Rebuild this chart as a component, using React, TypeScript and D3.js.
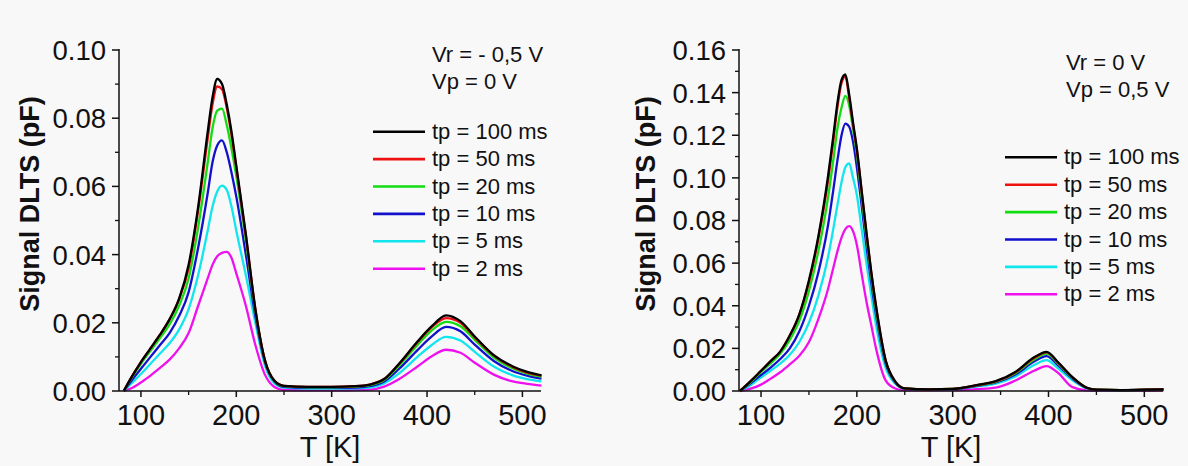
import React from "react";
import * as d3 from "d3";

// ---------- DATA ----------
const SERIES_LABELS = ["tp = 100 ms", "tp = 50 ms", "tp = 20 ms", "tp = 10 ms", "tp = 5 ms", "tp = 2 ms"];
const SERIES_COLORS = ["#000000", "#ee1111", "#11dd11", "#1111cc", "#11e6ee", "#ee11ee"];

const X_TICKS = [100, 200, 300, 400, 500];
const X_MINOR = [150, 250, 350, 450];

// Left panel (Vr = -0,5 V, Vp = 0 V)
const LEFT_Y_TICKS = [0, 0.02, 0.04, 0.06, 0.08, 0.1];
const LEFT_Y_MINOR = [0.01, 0.03, 0.05, 0.07, 0.09];
const LEFT_T = [82, 90, 100, 110, 120, 130, 140, 150, 160, 170, 175, 180, 185, 190, 195, 200, 210, 220, 230, 240, 250, 275, 300, 325, 340, 355, 370, 390, 405, 420, 435, 450, 470, 490, 505, 520];
const LEFT_100 = [0, 0.004, 0.0085, 0.0125, 0.0165, 0.021, 0.027, 0.037, 0.054, 0.076, 0.086, 0.0915, 0.090, 0.084, 0.076, 0.066, 0.046, 0.024, 0.009, 0.003, 0.0015, 0.0012, 0.0012, 0.0014, 0.0019, 0.0035, 0.0078, 0.0145, 0.019, 0.0222, 0.0205, 0.016, 0.0105, 0.0072, 0.0056, 0.0046];
const LEFT_50 = [0, 0.004, 0.0085, 0.0125, 0.0165, 0.021, 0.027, 0.036, 0.053, 0.074, 0.084, 0.0893, 0.0885, 0.083, 0.075, 0.0655, 0.0455, 0.024, 0.009, 0.003, 0.0015, 0.0012, 0.0012, 0.0014, 0.0019, 0.0035, 0.0077, 0.0143, 0.0187, 0.0214, 0.020, 0.0157, 0.0104, 0.007, 0.0054, 0.0045];
const LEFT_20 = [0, 0.0038, 0.008, 0.0118, 0.0155, 0.0195, 0.025, 0.033, 0.048, 0.067, 0.077, 0.0822, 0.0828, 0.078, 0.071, 0.063, 0.044, 0.0235, 0.009, 0.003, 0.0014, 0.0011, 0.0011, 0.0013, 0.0017, 0.0032, 0.0072, 0.0135, 0.0178, 0.0203, 0.019, 0.015, 0.0098, 0.0066, 0.0051, 0.0042];
const LEFT_10 = [0, 0.003, 0.0065, 0.010, 0.0135, 0.017, 0.022, 0.029, 0.042, 0.058, 0.067, 0.072, 0.0735, 0.070, 0.064, 0.057, 0.040, 0.022, 0.0085, 0.0028, 0.0012, 0.0009, 0.0009, 0.001, 0.0014, 0.0028, 0.0063, 0.012, 0.016, 0.0188, 0.0175, 0.0136, 0.0088, 0.0058, 0.0045, 0.0036];
const LEFT_5 = [0, 0.0022, 0.005, 0.008, 0.011, 0.014, 0.018, 0.024, 0.034, 0.047, 0.054, 0.0585, 0.0602, 0.059, 0.054, 0.047, 0.034, 0.020, 0.0075, 0.0022, 0.001, 0.0007, 0.0007, 0.0008, 0.001, 0.0022, 0.005, 0.010, 0.0135, 0.0159, 0.0148, 0.0115, 0.0072, 0.0046, 0.0035, 0.0028];
const LEFT_2 = [0, 0.0008, 0.0025, 0.0045, 0.0068, 0.0092, 0.0125, 0.017, 0.025, 0.033, 0.037, 0.0395, 0.0405, 0.0408, 0.039, 0.0345, 0.025, 0.0135, 0.0048, 0.0012, 0.0003, 0.0002, 0.0002, 0.0003, 0.0004, 0.0013, 0.0034, 0.0072, 0.0102, 0.0121, 0.0112, 0.0083, 0.0048, 0.0028, 0.0021, 0.0016];

// Right panel (Vr = 0 V, Vp = 0,5 V)
const RIGHT_Y_TICKS = [0, 0.02, 0.04, 0.06, 0.08, 0.1, 0.12, 0.14, 0.16];
const RIGHT_Y_MINOR = [0.01, 0.03, 0.05, 0.07, 0.09, 0.11, 0.13, 0.15];
const RIGHT_T = [78, 90, 100, 110, 120, 130, 140, 150, 160, 170, 175, 180, 184, 188, 192, 196, 200, 205, 210, 215, 220, 230, 240, 250, 275, 300, 325, 345, 365, 385, 398, 410, 425, 440, 450, 475, 500, 520];
const RIGHT_100 = [0, 0.005, 0.0095, 0.014, 0.0185, 0.026, 0.036, 0.052, 0.073, 0.101, 0.118, 0.136, 0.146, 0.1485, 0.139, 0.126, 0.1137, 0.094, 0.0745, 0.056, 0.040, 0.0145, 0.0045, 0.0012, 0.0008, 0.001, 0.0028, 0.0046, 0.0088, 0.0158, 0.0184, 0.0135, 0.0065, 0.0015, 0.0006, 0.0004, 0.0006, 0.0008];
const RIGHT_50 = [0, 0.005, 0.0095, 0.014, 0.0185, 0.026, 0.036, 0.051, 0.072, 0.099, 0.116, 0.134, 0.1445, 0.1475, 0.1375, 0.125, 0.113, 0.0935, 0.074, 0.0555, 0.0395, 0.0143, 0.0044, 0.0012, 0.0008, 0.001, 0.0027, 0.0045, 0.0086, 0.0155, 0.0181, 0.0133, 0.0064, 0.0015, 0.0006, 0.0004, 0.0006, 0.0008];
const RIGHT_20 = [0, 0.0045, 0.009, 0.013, 0.0175, 0.024, 0.033, 0.047, 0.066, 0.091, 0.107, 0.124, 0.133, 0.1385, 0.134, 0.123, 0.111, 0.091, 0.072, 0.054, 0.038, 0.014, 0.0043, 0.0012, 0.0008, 0.001, 0.0026, 0.0043, 0.0082, 0.0148, 0.0175, 0.0128, 0.0062, 0.0015, 0.0006, 0.0004, 0.0006, 0.0008];
const RIGHT_10 = [0, 0.004, 0.0075, 0.011, 0.015, 0.020, 0.028, 0.040, 0.056, 0.078, 0.093, 0.109, 0.120, 0.1255, 0.124, 0.117, 0.105, 0.087, 0.068, 0.051, 0.036, 0.013, 0.004, 0.0011, 0.0007, 0.0009, 0.0024, 0.004, 0.0076, 0.0138, 0.0164, 0.012, 0.0058, 0.0014, 0.0005, 0.0004, 0.0005, 0.0007];
const RIGHT_5 = [0, 0.003, 0.0064, 0.0095, 0.0128, 0.017, 0.023, 0.032, 0.045, 0.063, 0.075, 0.088, 0.098, 0.105, 0.1068, 0.100, 0.092, 0.076, 0.060, 0.045, 0.031, 0.011, 0.0035, 0.001, 0.0006, 0.0008, 0.0021, 0.0035, 0.0067, 0.0122, 0.0145, 0.0106, 0.005, 0.0012, 0.0005, 0.0003, 0.0005, 0.0006];
const RIGHT_2 = [0, 0.0012, 0.003, 0.0058, 0.0088, 0.0125, 0.0165, 0.023, 0.034, 0.048, 0.057, 0.066, 0.072, 0.076, 0.0774, 0.075, 0.0685, 0.055, 0.042, 0.031, 0.020, 0.005, 0.0012, 0.0003, 0.0003, 0.0004, 0.0009, 0.0016, 0.0048, 0.0095, 0.0117, 0.0085, 0.0018, 0.0003, 0.0002, 0.0002, 0.0002, 0.0003];

const FONT = "'Liberation Sans', Arial, Helvetica, sans-serif";

type PanelProps = {
  temps: number[];
  series: number[][];
  yMax: number;
  yTicks: number[];
  yMinor: number[];
  x0: number;
  x1: number;
  yTitleX: number;
  notes: string[];
  noteX: number;
  noteY: number;
  legendX: number;
  legendY: number;
};

function Panel(p: PanelProps) {
  const top = 50;
  const bottom = 391;
  const x = d3.scaleLinear().domain([77, 519.5]).range([p.x0, p.x1]);
  const y = d3.scaleLinear().domain([0, p.yMax]).range([bottom, top]);
  const line = d3
    .line<number>()
    .x((_, i) => x(p.temps[i]))
    .y((v) => y(v))
    .curve(d3.curveMonotoneX);
  const order = [5, 4, 3, 2, 1, 0];
  const fmt = d3.format(".2f");
  return (
    <g>
      {order.map((si) => (
        <path
          key={si}
          d={line(p.series[si]) || ""}
          fill="none"
          stroke={SERIES_COLORS[si]}
          strokeWidth={2.3}
          strokeLinejoin="round"
        />
      ))}
      {/* axes */}
      <line x1={p.x0} x2={p.x0} y1={top - 1} y2={bottom} stroke="#111" strokeWidth={1.5} />
      <line x1={p.x0} x2={p.x1} y1={bottom} y2={bottom} stroke="#111" strokeWidth={1.5} />
      {p.yTicks.map((t) => (
        <g key={"yt" + t}>
          <line x1={p.x0 - 7} x2={p.x0} y1={y(t)} y2={y(t)} stroke="#111" strokeWidth={1.5} />
          <text
            x={p.x0 - 13}
            y={y(t)}
            dy="0.36em"
            textAnchor="end"
            fontSize={27.5}
            fontFamily={FONT}
            fill="#111"
          >
            {fmt(t)}
          </text>
        </g>
      ))}
      {p.yMinor.map((t) => (
        <line key={"ym" + t} x1={p.x0 - 4} x2={p.x0} y1={y(t)} y2={y(t)} stroke="#111" strokeWidth={1.3} />
      ))}
      {X_TICKS.map((t) => (
        <g key={"xt" + t}>
          <line x1={x(t)} x2={x(t)} y1={bottom} y2={bottom + 6} stroke="#111" strokeWidth={1.5} />
          <text x={x(t)} y={425} textAnchor="middle" fontSize={29} fontFamily={FONT} fill="#111">
            {t}
          </text>
        </g>
      ))}
      {X_MINOR.map((t) => (
        <line key={"xm" + t} x1={x(t)} x2={x(t)} y1={bottom} y2={bottom + 4} stroke="#111" strokeWidth={1.3} />
      ))}
      <text
        x={(p.x0 + p.x1) / 2}
        y={457}
        textAnchor="middle"
        fontSize={29}
        fontFamily={FONT}
        fill="#111"
      >
        T [K]
      </text>
      <text
        transform={`translate(${p.yTitleX},204) rotate(-90)`}
        textAnchor="middle"
        fontSize={27}
        fontWeight="bold"
        fontFamily={FONT}
        fill="#111"
      >
        Signal DLTS (pF)
      </text>
      {p.notes.map((n, i) => (
        <text key={n} x={p.noteX} y={p.noteY + i * 27} fontSize={22} fontFamily={FONT} fill="#111">
          {n}
        </text>
      ))}
      {SERIES_LABELS.map((lab, i) => {
        const ly = p.legendY + i * 27.4;
        return (
          <g key={lab}>
            <line
              x1={p.legendX}
              x2={p.legendX + 52}
              y1={ly}
              y2={ly}
              stroke={SERIES_COLORS[i]}
              strokeWidth={2.6}
            />
            <text x={p.legendX + 59} y={ly + 7} fontSize={22} fontFamily={FONT} fill="#111">
              {lab}
            </text>
          </g>
        );
      })}
    </g>
  );
}

export default function App() {
  return (
    <svg
      width={1188}
      height={466}
      style={{ position: "absolute", left: 0, top: 0, display: "block" }}
    >
      <rect x={0} y={0} width={1188} height={466} fill="#f8f8f8" />
      <Panel
        temps={LEFT_T}
        series={[LEFT_100, LEFT_50, LEFT_20, LEFT_10, LEFT_5, LEFT_2]}
        yMax={0.1}
        yTicks={LEFT_Y_TICKS}
        yMinor={LEFT_Y_MINOR}
        x0={119}
        x1={541}
        yTitleX={39}
        notes={["Vr = - 0,5 V", "Vp = 0 V"]}
        noteX={432}
        noteY={61.5}
        legendX={373}
        legendY={131.7}
      />
      <Panel
        temps={RIGHT_T}
        series={[RIGHT_100, RIGHT_50, RIGHT_20, RIGHT_10, RIGHT_5, RIGHT_2]}
        yMax={0.16}
        yTicks={RIGHT_Y_TICKS}
        yMinor={RIGHT_Y_MINOR}
        x0={739}
        x1={1163}
        yTitleX={655}
        notes={["Vr = 0 V", "Vp = 0,5 V"]}
        noteX={1066}
        noteY={69.5}
        legendX={1005}
        legendY={157.3}
      />
    </svg>
  );
}
